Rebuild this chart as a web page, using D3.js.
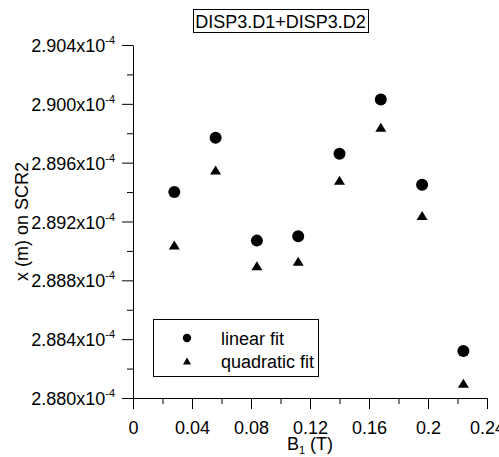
<!DOCTYPE html>
<html>
<head>
<meta charset="utf-8">
<script src="https://cdn.jsdelivr.net/npm/d3@7"></script>
<style>
  body { margin: 0; background: #fff; }
  svg { display: block; font-family: "Liberation Sans", Arial, sans-serif; }
</style>
</head>
<body>
<svg id="chart" width="499" height="457"></svg>
<script>
// B1 field values (T)
const fieldB1 = [0.028, 0.056, 0.084, 0.112, 0.14, 0.168, 0.196, 0.224];
// x position on SCR2, in units of 1e-4 m
const linearFit = [2.8940, 2.8977, 2.8907, 2.8910, 2.8966, 2.9003, 2.8945, 2.8832];
const quadraticFit = [2.8904, 2.8955, 2.8890, 2.8893, 2.8948, 2.8984, 2.8924, 2.8810];

const xTicks = [0, 0.04, 0.08, 0.12, 0.16, 0.2, 0.24];
const xTickLabels = ['0', '0.04', '0.08', '0.12', '0.16', '0.2', '0.24'];
const yTicks = [2.880, 2.884, 2.888, 2.892, 2.896, 2.900, 2.904];
const seriesNames = ['linear fit', 'quadratic fit'];
const titleText = 'DISP3.D1+DISP3.D2';

const svg = d3.select('#chart');
const fontSize = 18;

const x = d3.scaleLinear().domain([0, 0.24]).range([133, 487]);
const y = d3.scaleLinear().domain([2.880, 2.904]).range([398, 45]);

// triangle with bounding box centred on the point
function triangle(w, h) {
  return `M0,${-h / 2}L${w / 2},${h / 2}L${-w / 2},${h / 2}Z`;
}

// minor ticks
svg.append('g')
  .attr('transform', `translate(0,${y.range()[0]})`)
  .call(d3.axisBottom(x).tickValues(d3.range(0.02, 0.24, 0.04)).tickSize(6).tickSizeOuter(0).tickFormat(''))
  .call(g => g.select('.domain').remove());
svg.append('g')
  .attr('transform', `translate(${x.range()[0]},0)`)
  .call(d3.axisLeft(y).tickValues(d3.range(2.882, 2.904, 0.004)).tickSize(6).tickSizeOuter(0).tickFormat(''))
  .call(g => g.select('.domain').remove());

// x axis
const xAxis = svg.append('g')
  .attr('transform', `translate(0,${y.range()[0]})`)
  .call(d3.axisBottom(x).tickValues(xTicks).tickSize(11).tickSizeOuter(0)
    .tickFormat((d, i) => xTickLabels[i]));
xAxis.selectAll('text')
  .attr('font-size', fontSize)
  .attr('font-family', null)
  .attr('fill', '#000')
  .attr('y', 23)
  .attr('dy', '0.71em');

// y axis
const yAxis = svg.append('g')
  .attr('transform', `translate(${x.range()[0]},0)`)
  .call(d3.axisLeft(y).tickValues(yTicks).tickSize(11).tickSizeOuter(0).tickFormat(''));
yAxis.selectAll('.tick').each(function (d) {
  const t = d3.select(this).select('text')
    .attr('x', -18)
    .attr('dy', null)
    .attr('y', 6.5)
    .attr('font-family', null)
    .attr('fill', '#000');
  t.append('tspan').attr('font-size', fontSize).text(d3.format('.3f')(d) + 'x10');
  t.append('tspan').attr('font-size', 11).attr('dy', -8).text('-4');
});

svg.selectAll('.domain, .tick line').attr('stroke', '#000');

// axis titles
svg.append('text')
  .attr('transform', `translate(28,${(y.range()[0] + y.range()[1]) / 2}) rotate(-90)`)
  .attr('text-anchor', 'middle')
  .attr('font-size', fontSize)
  .text('x (m) on SCR2');

const xLabel = svg.append('text')
  .attr('x', (x.range()[0] + x.range()[1]) / 2)
  .attr('y', 450)
  .attr('text-anchor', 'middle')
  .attr('font-size', fontSize);
xLabel.append('tspan').text('B');
xLabel.append('tspan').attr('font-size', 11).attr('dy', 4).text('1');
xLabel.append('tspan').attr('dy', -4).text(' (T)');

// points
svg.append('g').selectAll('circle')
  .data(fieldB1.map((b, i) => ({ b, v: linearFit[i] })))
  .join('circle')
  .attr('cx', d => x(d.b))
  .attr('cy', d => y(d.v))
  .attr('r', 6)
  .attr('fill', '#000');

svg.append('g').selectAll('path')
  .data(fieldB1.map((b, i) => ({ b, v: quadraticFit[i] })))
  .join('path')
  .attr('transform', d => `translate(${x(d.b)},${y(d.v)})`)
  .attr('d', triangle(11, 9))
  .attr('fill', '#000');

// title box
svg.append('rect')
  .attr('x', 193.5)
  .attr('y', 9.5)
  .attr('width', 175)
  .attr('height', 23)
  .attr('fill', 'none')
  .attr('stroke', '#000');
svg.append('text')
  .attr('x', 280.5)
  .attr('y', 27.5)
  .attr('text-anchor', 'middle')
  .attr('font-size', fontSize)
  .text(titleText);

// legend
const legend = svg.append('g');
legend.append('rect')
  .attr('x', 153.5)
  .attr('y', 319.5)
  .attr('width', 165)
  .attr('height', 57)
  .attr('fill', '#fff')
  .attr('stroke', '#000');
const rows = legend.selectAll('g.row')
  .data(seriesNames)
  .join('g')
  .attr('class', 'row')
  .attr('transform', (d, i) => `translate(187,${338 + i * 23})`);
rows.filter((d, i) => i === 0).append('circle').attr('r', 4.2).attr('fill', '#000');
rows.filter((d, i) => i === 1).append('path').attr('d', triangle(8, 7)).attr('fill', '#000');
rows.append('text')
  .attr('x', 34)
  .attr('y', 6.5)
  .attr('font-size', fontSize)
  .text(d => d);
</script>
</body>
</html>
